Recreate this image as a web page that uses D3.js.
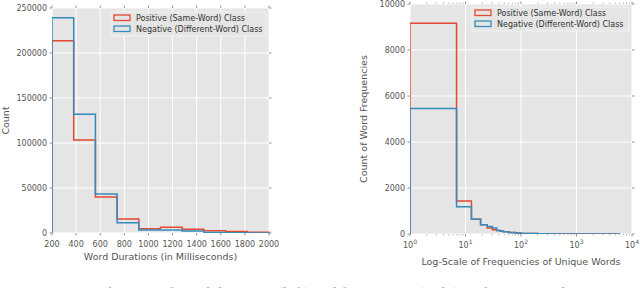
<!DOCTYPE html>
<html>
<head>
<meta charset="utf-8">
<script src="https://cdn.jsdelivr.net/npm/d3@7"></script>
<style>
  body { margin: 0; background: #fff; }
  text { font-family: "DejaVu Sans", sans-serif; fill: #555; }
</style>
</head>
<body>
<div id="chart"></div>
<script>
const W = 640, H = 288;
const red = "#E24A33", blue = "#348ABD";

// left panel: word durations, 10 bins of 180 ms
const durEdges = [200, 380, 560, 740, 920, 1100, 1280, 1460, 1640, 1820, 2000];
const durPos = [213700, 103300, 40000, 15500, 4800, 6300, 4100, 2600, 1700, 800];
const durNeg = [239200, 131900, 43300, 11500, 3300, 3300, 2200, 600, 200, 100];
const durXTicks = [200, 400, 600, 800, 1000, 1200, 1400, 1600, 1800, 2000];
const durYTicks = [0, 50000, 100000, 150000, 200000, 250000];

// right panel: word frequencies on log x
const freqEdges = [1, 6.9, 12.8, 18.7, 24.6, 30.5, 36.4, 42.3, 48.2, 60, 77.7, 101.3, 200, 400, 1000, 5900];
const freqPos = [9160, 1440, 640, 400, 257, 185, 155, 130, 100, 70, 45, 25, 12, 5, 2];
const freqNeg = [5460, 1185, 640, 400, 326, 257, 155, 125, 95, 65, 42, 24, 12, 5, 2];
const freqXTicks = [1, 10, 100, 1000, 10000];
const freqYTicks = [0, 2000, 4000, 6000, 8000, 10000];

const legendLabels = ["Positive (Same-Word) Class", "Negative (Different-Word) Class"];

const svg = d3.select("#chart").append("svg")
    .attr("width", W)
    .attr("height", H);

function stepPoints(edges, vals, x, y) {
    const pts = [[x(edges[0]), y(0)]];
    vals.forEach((v, i) => {
        pts.push([x(edges[i]), y(v)]);
        pts.push([x(edges[i + 1]), y(v)]);
    });
    pts.push([x(edges[edges.length - 1]), y(0)]);
    return pts;
}

function panel(opts) {
    const { id, x, y, xTicks, yTicks, xFmt, yFmt, xLabel, yLabel, yLabelX, xLabelY, series, legend, minor } = opts;
    const [x0, x1] = x.range();
    const [y0, y1] = y.range(); // y0 bottom, y1 top
    const g = svg.append("g");

    g.append("rect")
        .attr("x", x0).attr("y", y1)
        .attr("width", x1 - x0).attr("height", y0 - y1)
        .attr("fill", "#E5E5E5");

    // grid
    g.selectAll(".vg").data(xTicks).enter().append("line")
        .attr("x1", d => x(d)).attr("x2", d => x(d))
        .attr("y1", y1).attr("y2", y0)
        .attr("stroke", "#fff").attr("stroke-width", 1);
    g.selectAll(".hg").data(yTicks).enter().append("line")
        .attr("x1", x0).attr("x2", x1)
        .attr("y1", d => y(d)).attr("y2", d => y(d))
        .attr("stroke", "#fff").attr("stroke-width", 1);

    // ticks on all four sides
    const tk = 2.5;
    g.selectAll(".xt").data(xTicks).enter().append("path")
        .attr("d", d => `M${x(d)},${y0}v${tk}M${x(d)},${y1}v${-tk}`)
        .attr("stroke", "#777").attr("stroke-width", 0.8);
    g.selectAll(".yt").data(yTicks).enter().append("path")
        .attr("d", d => `M${x0},${y(d)}h${-tk}M${x1},${y(d)}h${tk}`)
        .attr("stroke", "#777").attr("stroke-width", 0.8);
    if (minor) {
        g.selectAll(".mt").data(minor).enter().append("path")
            .attr("d", d => `M${x(d)},${y0}v${1.5}M${x(d)},${y1}v${-1.5}`)
            .attr("stroke", "#888").attr("stroke-width", 0.6);
    }

    // tick labels
    g.selectAll(".xl").data(xTicks).enter().append("text")
        .attr("x", d => x(d)).attr("y", y0 + 14)
        .attr("text-anchor", "middle")
        .style("font-size", "8px")
        .each(function (d) { xFmt(d3.select(this), d); });
    g.selectAll(".yl").data(yTicks).enter().append("text")
        .attr("x", x0 - 5).attr("y", d => y(d) + 3)
        .attr("text-anchor", "end")
        .style("font-size", "8px")
        .text(yFmt);

    // axis labels
    g.append("text")
        .attr("x", (x0 + x1) / 2).attr("y", xLabelY)
        .attr("text-anchor", "middle")
        .style("font-size", "9.5px")
        .text(xLabel);
    g.append("text")
        .attr("transform", `translate(${yLabelX},${(y0 + y1) / 2}) rotate(-90)`)
        .attr("text-anchor", "middle")
        .style("font-size", "9.5px")
        .text(yLabel);

    // histogram steps
    const clipId = "clip" + id;
    svg.append("clipPath").attr("id", clipId).append("rect")
        .attr("x", x0).attr("y", y1 - 2).attr("width", x1 - x0 + 1).attr("height", y0 - y1 + 2);
    const line = d3.line();
    series.forEach(s => {
        g.append("path")
            .attr("clip-path", `url(#${clipId})`)
            .attr("d", line(stepPoints(s.edges, s.vals, x, y)))
            .attr("fill", "none")
            .attr("stroke", s.color)
            .attr("stroke-width", 1.5);
    });

    // legend
    const lg = g.append("g").attr("transform", `translate(${legend.x},${legend.y})`);
    lg.append("rect")
        .attr("width", legend.w).attr("height", 24)
        .attr("fill", "#E5E5E5").attr("stroke", "#f2f2f2").attr("stroke-width", 1);
    legendLabels.forEach((t, i) => {
        lg.append("rect")
            .attr("x", 3).attr("y", 3 + i * 11)
            .attr("width", 16).attr("height", 5.5)
            .attr("fill", "none")
            .attr("stroke", i === 0 ? red : blue).attr("stroke-width", 1.3);
        lg.append("text")
            .attr("x", 25).attr("y", 9 + i * 11)
            .style("font-size", "8px")
            .style("fill", "#333")
            .text(t);
    });
}

// left
const xDur = d3.scaleLinear().domain([200, 2000]).range([52, 269]);
const yDur = d3.scaleLinear().domain([0, 250000]).range([233, 8]);
panel({
    id: "L", x: xDur, y: yDur,
    xTicks: durXTicks, yTicks: durYTicks,
    xFmt: (t, d) => t.text(d),
    yFmt: d => d,
    xLabel: "Word Durations (in Milliseconds)", xLabelY: 260,
    yLabel: "Count", yLabelX: 9,
    series: [
        { edges: durEdges, vals: durPos, color: red },
        { edges: durEdges, vals: durNeg, color: blue }
    ],
    legend: { x: 111, y: 12, w: 155 }
});

// right
const xFreq = d3.scaleLog().domain([1, 10000]).range([410, 632]);
const yFreq = d3.scaleLinear().domain([0, 10000]).range([234, 4]);
const minorTicks = xFreq.ticks().filter(d => !freqXTicks.includes(d));
panel({
    id: "R", x: xFreq, y: yFreq,
    xTicks: freqXTicks, yTicks: freqYTicks,
    xFmt: (t, d) => {
        t.append("tspan").text("10");
        t.append("tspan").attr("dy", -4).style("font-size", "6px").text(Math.round(Math.log10(d)));
    },
    yFmt: d => d,
    xLabel: "Log-Scale of Frequencies of Unique Words", xLabelY: 265,
    yLabel: "Count of Word Frequencies", yLabelX: 367,
    series: [
        { edges: freqEdges, vals: freqPos, color: red },
        { edges: freqEdges, vals: freqNeg, color: blue }
    ],
    legend: { x: 472, y: 7, w: 157 },
    minor: minorTicks
});

// caption, cut off by the frame as in the source figure
svg.append("text")
    .attr("x", 10).attr("y", 299)
    .style("font-family", "'Liberation Serif', serif")
    .style("font-size", "16px")
    .style("fill", "#aaa")
    .text("Figure 1: Distributions of word durations (left) and frequencies (right) in the training data.");
</script>
</body>
</html>
